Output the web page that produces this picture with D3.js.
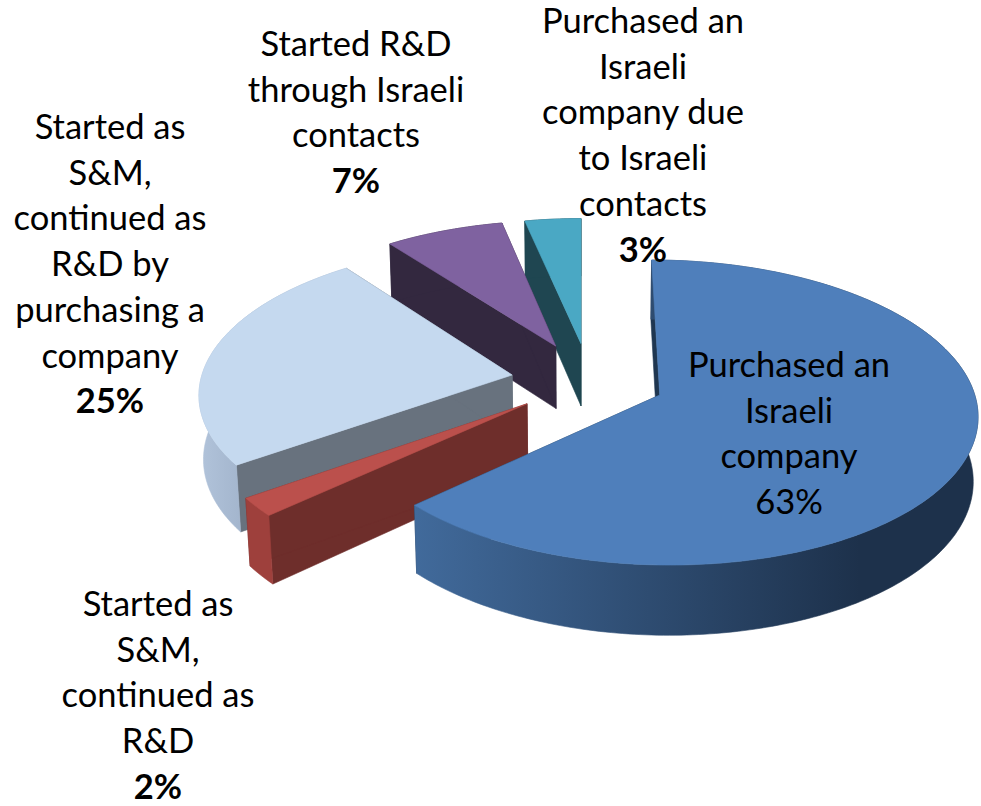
<!DOCTYPE html>
<html>
	<head>
		<meta charset="utf-8">
		<style type="text/css">
			html, body { margin: 0; padding: 0; background: #fff; }
			svg { display: block; }
			text { font-family: Lato, "Open Sans", sans-serif; font-size: 34.5px; fill: #000; text-anchor: middle; }
		</style>
		<title>Pie</title>
	</head>
	<body>
		<script src="https://cdn.jsdelivr.net/npm/d3@7/dist/d3.min.js"></script>
		<script>

		// slices, clockwise from 12 o'clock
		var categories = ["Purchased an Israeli company", "Started as S&M, continued as R&D", "Started as S&M, continued as R&D by purchasing a company", "Started R&D through Israeli contacts", "Purchased an Israeli company due to Israeli contacts"];
		var values = [63.2, 2, 24.5, 7, 3.3];
		var percentLabels = ["63%", "2%", "25%", "7%", "3%"];
		var labelLines = [
			["Purchased an", "Israeli", "company"],
			["Started as", "S&M,", "continued as", "R&D"],
			["Started as", "S&M,", "continued as", "R&D by", "purchasing a", "company"],
			["Started R&D", "through Israeli", "contacts"],
			["Purchased an", "Israeli", "company due", "to Israeli", "contacts"]
		];

		var width = 981;
		var height = 806;

		// look of the slices
		var topColors = ["#4f7fbb", "#bb504c", "#c5d9ef", "#7f62a0", "#4aa8c4"];
		var cutColors = ["#1f3650", "#6e2e2b", "#68727e", "#33283f", "#1f4651"];
		var outerColors = ["url(#blueWall)", "#9e403c", "url(#paleWall)", "#33283f", "#1f4651"];

		// exploded tip of each slice, in pie radii
		var tipX = [0.25, -0.170, -0.222, -0.083, 0];
		var tipY = [0, 0.058, -0.135, -0.337, -0.355];
		var drawOrder = [4, 3, 2, 1, 0];

		// where the first line of each label sits
		var labelX = [789, 158, 110, 356, 643];
		var labelY = [377, 616, 139, 56, 33];
		var lineHeight = 45.7;

		// perspective projection of the pie plane
		var vanishX = 581, originY = 395;
		var radiusX = 315, radiusY = 150.5, depth = 65;
		var tilt = 0.115, squeeze = 0.012;

		function project(X, Y, Z) {
			var w = 1 - tilt * Y + squeeze * Z;
			return [vanishX + radiusX * X / w, originY + (radiusY * Y + depth * Z) / w];
		}

		var svg = d3.select("body").append("svg")
								.attr("width", width)
								.attr("height", height);

		var defs = svg.append("defs");

		function wallGradient(id, x1, x2, from, to) {
			var g = defs.append("linearGradient")
								.attr("id", id)
								.attr("gradientUnits", "userSpaceOnUse")
								.attr("x1", x1).attr("x2", x2)
								.attr("y1", 0).attr("y2", 0);
			g.append("stop").attr("offset", 0).attr("stop-color", from);
			g.append("stop").attr("offset", 1).attr("stop-color", to);
		}
		wallGradient("blueWall", 415, 860, "#416a9b", "#1d314b");
		wallGradient("paleWall", 200, 245, "#b1c3da", "#a2b4cc");

		var line = d3.line();
		var pie = d3.pie().sort(null).value(function(d) { return d; });
		var arcs = pie(values);

		// one ring of points along the outer edge of a slice
		function rim(i, Z) {
			var a = arcs[i], pts = [];
			var steps = Math.max(4, Math.ceil((a.endAngle - a.startAngle) * 60));
			d3.range(steps + 1).forEach(function(s) {
				var t = a.startAngle + (a.endAngle - a.startAngle) * s / steps;
				pts.push(project(tipX[i] + Math.sin(t), tipY[i] - Math.cos(t), Z));
			});
			return pts;
		}

		drawOrder.forEach(function(i) {
			var top = rim(i, 0), bottom = rim(i, 1);
			var tipTop = project(tipX[i], tipY[i], 0), tipBottom = project(tipX[i], tipY[i], 1);
			var g = svg.append("g").attr("class", "slice").datum(categories[i]);

			function face(points, color) {
				g.append("path")
					.attr("d", line(points) + "Z")
					.attr("fill", color)
					.attr("stroke", color)
					.attr("stroke-width", 0.6)
					.attr("stroke-linejoin", "round");
			}

			// the two cut walls, then the rim wall, then the top
			face([tipTop, top[0], bottom[0], tipBottom], cutColors[i]);
			face([tipTop, top[top.length - 1], bottom[bottom.length - 1], tipBottom], cutColors[i]);
			face(top.concat(bottom.slice().reverse()), outerColors[i]);
			face([tipTop].concat(top), topColors[i]);
		});

		labelLines.forEach(function(lines, i) {
			var label = svg.append("text").attr("class", "label");
			lines.forEach(function(t, j) {
				label.append("tspan")
					.attr("x", labelX[i])
					.attr("y", labelY[i] + j * lineHeight)
					.text(t);
			});
			label.append("tspan")
				.attr("x", labelX[i])
				.attr("y", labelY[i] + lines.length * lineHeight)
				.style("font-weight", i == 0 ? "normal" : "bold")
				.text(percentLabels[i]);
		});

		</script>
	</body>
</html>
